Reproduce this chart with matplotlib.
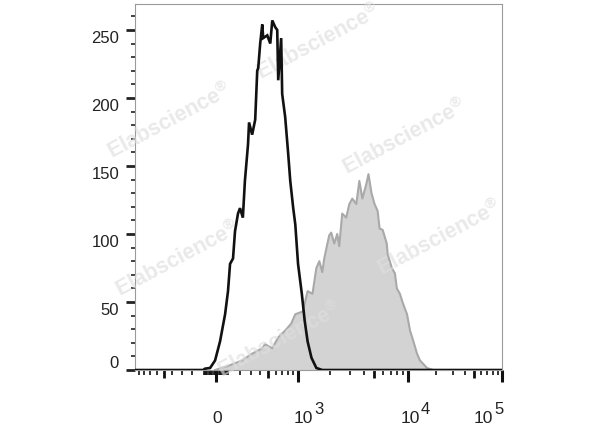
import numpy as np
import matplotlib
matplotlib.use('Agg')
import matplotlib.pyplot as plt

plt.rcParams['font.family'] = ['Liberation Sans', 'DejaVu Sans']
plt.rcParams['mathtext.fontset'] = 'custom'
plt.rcParams['mathtext.rm'] = 'Liberation Sans'
plt.rcParams['mathtext.default'] = 'regular'

# black (control) histogram: fluorescence value, count
black_x = [-105, -89, -48, -8, 32, 73, 97, 114, 139, 156, 182, 200, 226, 245, 275, 285,
           316, 348, 370, 381, 403, 427, 438, 488, 527, 554, 596, 625, 640, 686, 702,
           752, 805, 843, 900, 942, 1000, 1087, 1158, 1233, 1340, 1488, 1688]
black_y = [0, 1, 1.5, 7, 21, 41, 58, 78, 82, 102, 115, 119, 112, 139, 166, 182,
           173, 184, 220, 222, 240, 254, 244, 246, 240, 257, 252, 250, 213, 244, 203,
           186, 159, 139, 119, 107, 78, 56, 36, 21, 9, 1.5, 0]

# gray (stained) histogram
gray_x = [-8, 97, 218, 316, 427, 460, 554, 640, 752, 859, 942, 1110, 1233, 1369, 1488,
          1585, 1688, 1759, 1953, 2037, 2170, 2310, 2409, 2565, 2786, 2971, 3162, 3435,
          3659, 3897, 4237, 4420, 4706, 5012, 5337, 5565, 5929, 6446, 6579, 7166, 7630,
          7943, 8456, 9003, 9793, 10500, 11300, 12470, 13420, 15930, 18450]
gray_y = [0, 3, 7, 12, 16, 19, 16, 24, 29, 34, 41, 43, 58, 56, 75,
          80, 72, 82, 99, 101, 93, 100, 91, 115, 112, 122, 126, 122,
          139, 126, 137, 144, 130, 122, 117, 104, 103, 93, 85, 75, 71,
          60, 56, 49, 41, 29, 22, 12, 7, 1.5, 0]

y_major = [0, 50, 100, 150, 200, 250]
x_major = [0, 1e3, 1e4, 1e5]
x_base = ['0', '10', '10', '10']
x_exp = ['', '3', '4', '5']

# biexponential-like axis (asinh, stretched per decade)
C = 400.0
U_anch = np.array([-20, 0, np.arcsinh(1e3 / C), np.arcsinh(1e4 / C), np.arcsinh(1e5 / C), 20])
s0 = 82 / U_anch[2]
P_anch = np.array([-20 * s0, 0, 82, 192, 286, 286 + (20 - U_anch[4]) * 40.8])


def fwd(x):
    return np.interp(np.arcsinh(np.asarray(x, dtype=float) / C), U_anch, P_anch)


def inv(p):
    return C * np.sinh(np.interp(np.asarray(p, dtype=float), P_anch, U_anch))


fig = plt.figure(figsize=(6, 4.27), dpi=100)
ax = fig.add_axes([0.225, 0.1311, 0.6117, 0.857])
ax.set_xscale('function', functions=(fwd, inv))
xmin, xmax = -980, 1e5

ax.fill_between(gray_x, gray_y, color='#d3d3d3', lw=0, zorder=2)
ax.plot(gray_x, gray_y, color='#a9a9a9', lw=1.5, zorder=3)

bx = np.concatenate([[xmin], black_x, [xmax]])
by = np.concatenate([[0], black_y, [0]])
ax.plot(bx, by, color='#111111', lw=1.9, zorder=5, solid_joinstyle='miter')

ax.set_xlim(xmin, xmax)
ax.set_ylim(0, 269)

# watermarks
wm = [(0.095, 0.684), (0.733, 0.640), (0.499, 0.898), (0.831, 0.363), (0.117, 0.305), (0.395, 0.085)]
for wx, wy in wm:
    ax.text(wx, wy, 'Elabscience$^{®}$', transform=ax.transAxes, rotation=28, fontsize=15.5,
            fontweight='bold', color='#dedede', alpha=0.65, ha='center', va='center', zorder=4)

for sp in ax.spines.values():
    sp.set_color('#9a9a9a')
    sp.set_linewidth(0.8)

# y ticks
ax.set_yticks(y_major)
ax.set_yticks(np.arange(0, 261, 10), minor=True)
ax.tick_params(axis='y', which='major', length=6.5, width=2, pad=5, labelsize=12, colors='#222222')
ax.tick_params(axis='y', which='minor', length=3.2, width=1.2, colors='#222222')
for i, lab in enumerate(ax.get_yticklabels()):
    lab.set_va('bottom' if i == 0 else 'top')

# x ticks
minor = list(range(-900, -100, 100)) + [v for v in range(-100, 101, 10) if v != 0] \
    + list(range(200, 1000, 100)) + list(range(2000, 10000, 1000)) + list(range(20000, 100000, 10000))
medium = {-500, 500, 5000, 50000}
ax.set_xticks(x_major)
ax.set_xticks(minor, minor=True)
ax.tick_params(axis='x', which='major', length=8.6, width=2.2, colors='#111111', labelbottom=False)
ax.tick_params(axis='x', which='minor', length=3.6, width=1.2, colors='#111111')
for loc, t in zip(minor, ax.xaxis.get_minor_ticks(len(minor))):
    if loc in medium:
        t.tick1line.set_markersize(5.8)
        t.tick1line.set_markeredgewidth(2)

# x labels as 10 with big exponent
offs = [(1, 0), (15, 15), (12, 12), (-9, -9)]
for val, base, ex, (dxb, dxe) in zip(x_major, x_base, x_exp, offs):
    ha = 'center' if ex == '' else 'right'
    ax.annotate(base, xy=(val, 0), xycoords=('data', 'axes fraction'), xytext=(dxb, -52),
                textcoords='offset pixels', ha=ha, va='baseline', fontsize=12.5, color='#222222',
                annotation_clip=False)
    if ex:
        ax.annotate(ex, xy=(val, 0), xycoords=('data', 'axes fraction'), xytext=(dxe + 1, -43),
                    textcoords='offset pixels', ha='left', va='baseline', fontsize=12,
                    color='#222222', annotation_clip=False)

fig.savefig('out.png', dpi=100)
